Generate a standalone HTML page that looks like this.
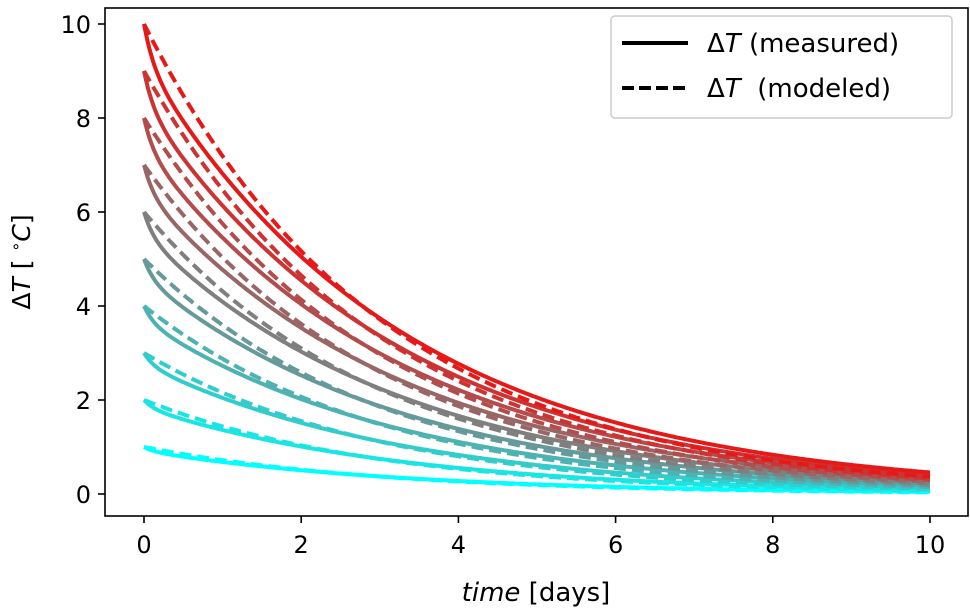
<!DOCTYPE html>
<html><head><meta charset="utf-8"><style>
body{margin:0;background:#fff;}
svg{display:block;font-family:"DejaVu Sans","Liberation Sans",sans-serif;}
</style></head><body>
<svg id="chart" width="970" height="610" viewBox="0 0 970 610">
<rect x="0" y="0" width="970" height="610" fill="#fff"/>
<g id="series"></g>
<rect x="105" y="8" width="863" height="508" fill="none" stroke="#000" stroke-width="1.6"/>
<g id="axes"></g>
<text x="536" y="601" font-size="26" text-anchor="middle"><tspan font-style="italic">time</tspan> [days]</text>
<text transform="translate(30,262) rotate(-90)" font-size="25" text-anchor="middle">Δ<tspan font-style="italic">T</tspan> [ <tspan font-size="16" dy="-9">∘</tspan><tspan dy="9" font-style="italic">C</tspan>]</text>
<g>
<rect x="611" y="16" width="341" height="102" rx="4" fill="#fff" stroke="#ccc" stroke-width="1.5"/>
<line x1="622" y1="43" x2="688" y2="43" stroke="#000" stroke-width="4"/>
<text x="707" y="52" font-size="26">Δ<tspan font-style="italic">T</tspan> (measured)</text>
<line x1="622" y1="88" x2="688" y2="88" stroke="#000" stroke-width="4" stroke-dasharray="12,5"/>
<text x="707" y="97" font-size="26" xml:space="preserve">Δ<tspan font-style="italic">T</tspan>  (modeled)</text>
</g>
</svg>
<script>
const startValues = [1,2,3,4,5,6,7,8,9,10];
const measuredFastFrac = [0.08,0.08,0.08,0.08,0.08,0.08,0.08,0.08,0.08,0.08];
const measuredFastRate = [8,8,8,8,8,8,8,8,8,8];
const measuredSlowRate = [0.3,0.3,0.3,0.3,0.3,0.3,0.3,0.3,0.3,0.3];
const modeledRate = [0.33,0.33,0.33,0.33,0.33,0.33,0.33,0.33,0.33,0.33];
const xTicks = [0,2,4,6,8,10];
const yTicks = [0,2,4,6,8,10];
const tMax = 10;

const NS="http://www.w3.org/2000/svg";
const xs = t => 144 + t*78.6;
const ys = v => 494 - v*47;
const axes=document.getElementById('axes');
xTicks.forEach(t=>{
  const l=document.createElementNS(NS,'line');
  l.setAttribute('x1',xs(t));l.setAttribute('x2',xs(t));l.setAttribute('y1',516);l.setAttribute('y2',523);
  l.setAttribute('stroke','#000');l.setAttribute('stroke-width','1.6');
  
  
  axes.appendChild(l);
  const tx=document.createElementNS(NS,'text');
  tx.setAttribute('x',xs(t));tx.setAttribute('y',553);tx.setAttribute('font-size','24');tx.setAttribute('text-anchor','middle');
  tx.textContent=t;
  
  
  axes.appendChild(tx);
});
yTicks.forEach(v=>{
  const l=document.createElementNS(NS,'line');
  l.setAttribute('x1',98);l.setAttribute('x2',105);l.setAttribute('y1',ys(v));l.setAttribute('y2',ys(v));
  l.setAttribute('stroke','#000');l.setAttribute('stroke-width','1.6');
  
  
  axes.appendChild(l);
  const tx=document.createElementNS(NS,'text');
  tx.setAttribute('x',91);tx.setAttribute('y',ys(v)+9);tx.setAttribute('font-size','24');tx.setAttribute('text-anchor','end');
  tx.textContent=v;
  
  
  axes.appendChild(tx);
});
const g=document.getElementById('series');
const n=startValues.length;
function colorFor(i){
  const f=n>1?i/(n-1):1;
  const r=Math.round(0+f*230), gg=Math.round(255-f*230), b=Math.round(255-f*230);
  return `rgb(${r},${gg},${b})`;
}
for(let i=0;i<n;i++){
  const A=startValues[i];
  let pm='',pd='';
  for(let k=0;k<=400;k++){
    const t=tMax*k/400;
    const vm=A*(measuredFastFrac[i]*Math.exp(-measuredFastRate[i]*t)+(1-measuredFastFrac[i])*Math.exp(-measuredSlowRate[i]*t));
    const vd=A*Math.exp(-modeledRate[i]*t);
    pm+=(k?'L':'M')+xs(t).toFixed(1)+','+ys(vm).toFixed(1);
    pd+=(k?'L':'M')+xs(t).toFixed(1)+','+ys(vd).toFixed(1);
  }
  const c=colorFor(i);
  const m=document.createElementNS(NS,'path');
  m.setAttribute('d',pm);m.setAttribute('fill','none');m.setAttribute('stroke',c);m.setAttribute('stroke-width','4');
  
  
  g.appendChild(m);
  const d=document.createElementNS(NS,'path');
  d.setAttribute('d',pd);d.setAttribute('fill','none');d.setAttribute('stroke',c);d.setAttribute('stroke-width','4');d.setAttribute('stroke-dasharray','12,6');
  
  
  g.appendChild(d);
}
</script>
</body></html>
